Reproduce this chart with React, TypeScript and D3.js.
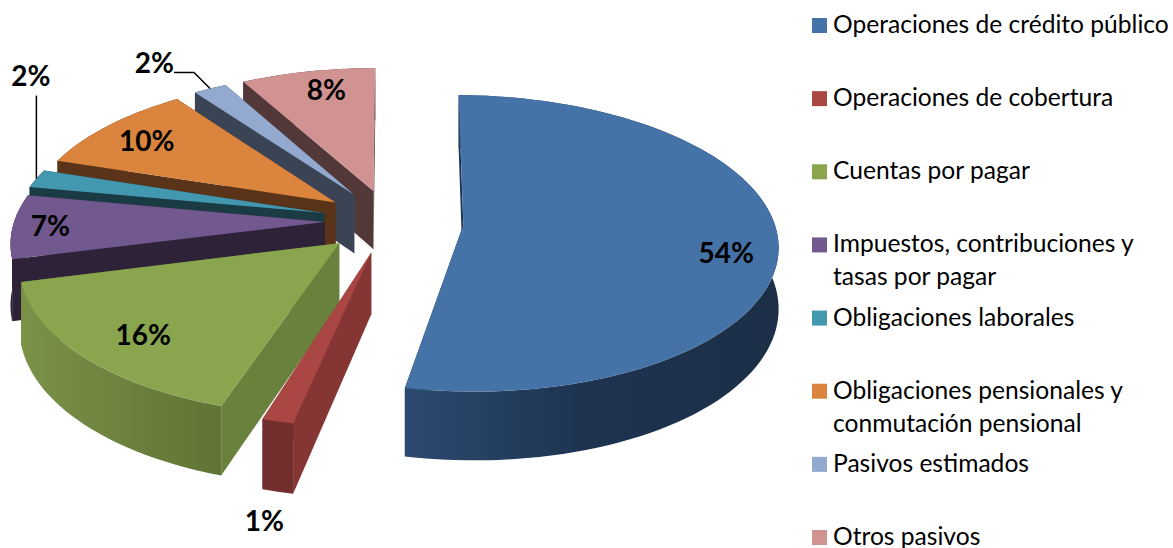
import * as d3 from 'd3';

const categories = [
  ['Operaciones de crédito público'],
  ['Operaciones de cobertura'],
  ['Cuentas por pagar'],
  ['Impuestos, contribuciones y', 'tasas por pagar'],
  ['Obligaciones laborales'],
  ['Obligaciones pensionales y', 'conmutación pensional'],
  ['Pasivos estimados'],
  ['Otros pasivos'],
];
// printed percentages
const labels = [54, 1, 16, 7, 2, 10, 2, 8];
// unrounded shares
const shares = [53.6, 1.4, 16, 7, 2, 10, 2, 8];

const topColors = ['#4572a7', '#aa4643', '#89a54e', '#71588f', '#4198af', '#db843d', '#93a9cf', '#d19392'];
const wallColors = ['#1f3554', '#853533', '#6a803d', '#2d2238', '#1a3a44', '#5a3418', '#3a4455', '#53383a'];
const rimColors = ['url(#blueRim)', '#722f2e', 'url(#greenRim)', '#2d2238', '#1a3a44', '#5a3418', '#3a4455', '#53383a'];

// slices that sit a bit off their share in the picture (degrees)
const startTrim = [0.7, -1, 0, 0, 0, 0, 0, 0];
const endTrim = [1.8, 1, 0, 0, 0, 0, 0, 0];
const explode = [0.237, 0.22, 0.22, 0.21, 0.22, 0.22, 0.22, 0.22];

// label placement inside the disc: radius fraction and angle shift from the slice middle
const labelRadius = [0.84, 1.46, 0.8, 0.88, 1.55, 0.81, 1.31, 0.82];
const labelShift = [6.5, -5.1, -2, 0, 30, -1, -3, 2];

const W = 1173;
const H = 548;
const CX = 390;
const CY = 221;
const RX = 310.5;
const RY = 145;
const PERSP = 0.124; // how much the near side grows
const DEPTH = 60;

const rad = (deg: number) => (deg * Math.PI) / 180;

const project = (angle: number, r: number, mid: number, e: number, z = 0): [number, number] => {
  const wx = r * Math.sin(angle) + e * Math.sin(mid);
  const wy = r * Math.cos(angle) + e * Math.cos(mid);
  const s = 1 / (1 + PERSP * wy);
  return [CX + RX * wx * s, CY - RY * wy * s + DEPTH * z * s];
};

const line = d3.line();

const pie = d3.pie<number>().sort(null);
const arcs = pie(shares).map((a, i) => ({
  ...a,
  i,
  e: explode[i],
  startAngle: a.startAngle + rad(startTrim[i]),
  endAngle: a.endAngle - rad(endTrim[i]),
  mid: (a.startAngle + a.endAngle) / 2,
}));

const rimAngles = (a0: number, a1: number) => {
  const n = Math.max(4, Math.ceil((a1 - a0) / rad(2)));
  return d3.range(n + 1).map((k) => a0 + ((a1 - a0) * k) / n);
};

// far slices first so nearer ones paint over them
const order = [...arcs].sort((a, b) => Math.cos(b.mid) - Math.cos(a.mid));

const legendY = d3.scaleLinear().domain([0, 7]).range([25.5, 537.5]);

export default function App() {
  return (
    <svg
      width={W}
      height={H}
      style={{ position: 'absolute', left: 0, top: 0, fontFamily: 'Lato, sans-serif' }}
    >
      <defs>
        <linearGradient id="blueRim" gradientUnits="userSpaceOnUse" x1={404} x2={776} y1={0} y2={0}>
          <stop offset="0" stopColor="#2c4a70" />
          <stop offset="0.5" stopColor="#1d3350" />
          <stop offset="1" stopColor="#1c2f47" />
        </linearGradient>
        <linearGradient id="greenRim" gradientUnits="userSpaceOnUse" x1={25} x2={225} y1={0} y2={0}>
          <stop offset="0" stopColor="#7a9148" />
          <stop offset="1" stopColor="#5f7335" />
        </linearGradient>
      </defs>

      {order.map((a) => {
        const { i, mid, e, startAngle, endAngle } = a;
        const angles = rimAngles(startAngle, endAngle);
        const apexTop = project(0, 0, mid, e);
        const apexBot = project(0, 0, mid, e, 1);
        const top = angles.map((t) => project(t, 1, mid, e));
        const bot = angles.map((t) => project(t, 1, mid, e, 1));
        const wall = (t: number) =>
          [apexTop, project(t, 1, mid, e), project(t, 1, mid, e, 1), apexBot] as [number, number][];
        return (
          <g key={i}>
            <path d={line(wall(endAngle))! + 'Z'} fill={wallColors[i]} />
            <path d={line(wall(startAngle))! + 'Z'} fill={wallColors[i]} />
            <path d={line([...top, ...[...bot].reverse()])! + 'Z'} fill={rimColors[i]} />
            <path d={line([apexTop, ...top])! + 'Z'} fill={topColors[i]} />
          </g>
        );
      })}

      {/* leader lines of the two small slices */}
      {[4, 6].map((i) => {
        const [x, y] = project(arcs[i].mid, 1, arcs[i].mid, arcs[i].e);
        const pts: [number, number][] =
          i === 4
            ? [[x, y], [x, y - 83]]
            : [[x, y], [x - 16, y - 16], [x - 36, y - 16]];
        return <path key={i} d={line(pts)!} fill="none" stroke="#000" strokeWidth={1.5} />;
      })}

      {arcs.map((a) => {
        const [x, y] = project(a.mid + rad(labelShift[a.i]), labelRadius[a.i], a.mid, a.e);
        return (
          <text key={a.i} x={x} y={y} dy="0.35em" textAnchor="middle" fontSize={28} fontWeight={700} fill="#000">
            {labels[a.i]}%
          </text>
        );
      })}

      {categories.map((lines, i) => (
        <g key={i}>
          <rect x={812} y={legendY(i) - 7.5} width={15} height={15} fill={topColors[i]} />
          {lines.map((t, j) => (
            <text key={j} x={833} y={legendY(i) + 7.5 + j * 33} fontSize={24.6} fill="#000">
              {t}
            </text>
          ))}
        </g>
      ))}
    </svg>
  );
}
